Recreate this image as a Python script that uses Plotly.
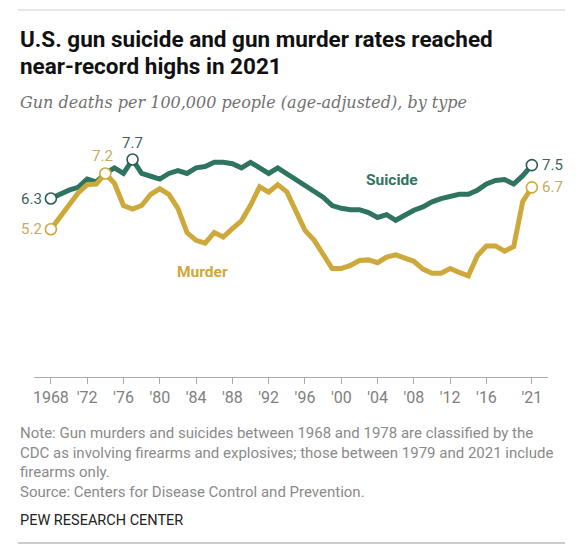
import plotly.graph_objects as go

years = list(range(1968, 2022))

suicide = [6.3, 6.45, 6.6, 6.7, 7.0, 6.9, 7.2, 7.4, 7.2, 7.7,
           7.2, 7.1, 7.0, 7.2, 7.3, 7.2, 7.4, 7.45, 7.6, 7.6,
           7.55, 7.4, 7.6, 7.4, 7.2, 7.4, 7.2, 7.0, 6.8, 6.55,
           6.35, 6.05, 5.95, 5.9, 5.9, 5.8, 5.62, 5.72, 5.52, 5.7,
           5.88, 6.0, 6.18, 6.3, 6.38, 6.45, 6.45, 6.6, 6.82, 6.95,
           6.98, 6.82, 7.12, 7.5]

murder = [5.2, 5.65, 6.05, 6.5, 6.8, 6.82, 7.2, 6.85, 6.05, 5.92,
          6.05, 6.45, 6.65, 6.45, 5.95, 5.08, 4.8, 4.7, 5.08, 4.92,
          5.22, 5.5, 6.06, 6.72, 6.53, 6.8, 6.54, 5.88, 5.16, 4.81,
          4.33, 3.79, 3.79, 3.9, 4.08, 4.1, 4.0, 4.2, 4.28, 4.17,
          4.05, 3.77, 3.62, 3.62, 3.79, 3.65, 3.53, 4.25, 4.6, 4.6,
          4.41, 4.58, 6.2, 6.7]

tick_vals = [1968, 1972, 1976, 1980, 1984, 1988, 1992, 1996, 2000, 2004,
             2008, 2012, 2016, 2021]
tick_text = ["1968", "'72", "'76", "'80", "'84", "'88", "'92", "'96", "'00",
             "'04", "'08", "'12", "'16", "'21"]

suicide_marks = [1968, 1977, 2021]
murder_marks = [1968, 1974, 2021]

GREEN = "#2f7461"
GOLD = "#cda83a"
GREEN_TXT = "#3e5f60"
GOLD_TXT = "#c6aa5e"

W, H = 583, 550
OFF = 8  # page body margin offset
L, R, T, B = 34 - OFF, 35 + OFF, 140 - OFF, 173 + OFF
PW = W - L - R
PH = H - T - B


def px(xp):
    return (xp - OFF - L) / PW


def py(yp):
    return (H - B - (yp - OFF)) / PH


fig = go.Figure()

fig.add_trace(go.Scatter(x=years, y=suicide, mode="lines",
                         line=dict(color=GREEN, width=5), hoverinfo="skip"))
fig.add_trace(go.Scatter(x=years, y=murder, mode="lines",
                         line=dict(color=GOLD, width=5), hoverinfo="skip"))

s_idx = [years.index(y) for y in suicide_marks]
m_idx = [years.index(y) for y in murder_marks]
fig.add_trace(go.Scatter(x=suicide_marks, y=[suicide[i] for i in s_idx],
                         mode="markers",
                         marker=dict(size=11, color="white", symbol="circle",
                                     line=dict(color="#2c5a55", width=1.6)),
                         hoverinfo="skip"))
fig.add_trace(go.Scatter(x=murder_marks, y=[murder[i] for i in m_idx],
                         mode="markers",
                         marker=dict(size=11, color="white", symbol="circle",
                                     line=dict(color=GOLD, width=1.6)),
                         hoverinfo="skip"))

ann = []
vfont = dict(family="Roboto", size=15)
ann.append(dict(x=1968, y=suicide[0], text="6.3", xref="x", yref="y",
                xanchor="right", yanchor="middle", xshift=-7, showarrow=False,
                font=dict(vfont, color=GREEN_TXT)))
ann.append(dict(x=1968, y=murder[0], text="5.2", xref="x", yref="y",
                xanchor="right", yanchor="middle", xshift=-7, showarrow=False,
                font=dict(vfont, color=GOLD_TXT)))
ann.append(dict(x=1977, y=suicide[s_idx[1]], text="7.7", xref="x", yref="y",
                xanchor="center", yanchor="bottom", yshift=6, showarrow=False,
                font=dict(vfont, color=GREEN_TXT)))
ann.append(dict(x=1974, y=murder[m_idx[1]], text="7.2", xref="x", yref="y",
                xanchor="center", yanchor="bottom", yshift=6, xshift=-3,
                showarrow=False, font=dict(vfont, color=GOLD_TXT)))
ann.append(dict(x=2021, y=suicide[-1], text="7.5", xref="x", yref="y",
                xanchor="left", yanchor="middle", xshift=8, showarrow=False,
                font=dict(vfont, color=GREEN_TXT)))
ann.append(dict(x=2021, y=murder[-1], text="6.7", xref="x", yref="y",
                xanchor="left", yanchor="middle", xshift=8, showarrow=False,
                font=dict(vfont, color=GOLD_TXT)))
ann.append(dict(x=2005.6, y=6.96, text="<b>Suicide</b>", xref="x", yref="y",
                showarrow=False, font=dict(family="Roboto", size=15.5, color=GREEN)))
ann.append(dict(x=1984.66, y=3.66, text="<b>Murder</b>", xref="x", yref="y",
                showarrow=False, font=dict(family="Roboto", size=15.5, color=GOLD)))

tfont = dict(family="Roboto", size=22.5, color="#111111")
ann.append(dict(x=px(18), y=py(39), xref="paper", yref="paper",
                text="<b>U.S. gun suicide and gun murder rates reached</b>",
                xanchor="left", yanchor="middle", showarrow=False, font=tfont))
ann.append(dict(x=px(18), y=py(66), xref="paper", yref="paper",
                text="<b>near-record highs in 2021</b>",
                xanchor="left", yanchor="middle", showarrow=False, font=tfont))
ann.append(dict(x=px(18), y=py(102), xref="paper", yref="paper",
                text="<i>Gun deaths per 100,000 people (age-adjusted), by type</i>",
                xanchor="left", yanchor="middle", showarrow=False,
                font=dict(family="DejaVu Serif", size=16, color="#707070")))

nfont = dict(family="Roboto", size=15, color="#8a8a8a")
note_lines = [
    "Note: Gun murders and suicides between 1968 and 1978 are classified by the",
    "CDC as involving firearms and explosives; those between 1979 and 2021 include",
    "firearms only.",
    "Source: Centers for Disease Control and Prevention.",
]
for i, t in enumerate(note_lines):
    ann.append(dict(x=px(18), y=py(433 + i * 19.5), xref="paper", yref="paper",
                    text=t, xanchor="left", yanchor="middle", showarrow=False,
                    font=nfont))
ann.append(dict(x=px(18), y=py(520), xref="paper", yref="paper",
                text="PEW RESEARCH CENTER", xanchor="left", yanchor="middle",
                showarrow=False, font=dict(family="Roboto", size=14.5, color="#222222")))

shapes = [
    dict(type="line", xref="paper", yref="paper", x0=px(18), x1=px(565),
         y0=py(10), y1=py(10), line=dict(color="#cccccc", width=1)),
    dict(type="line", xref="paper", yref="paper", x0=px(18), x1=px(565),
         y0=py(543), y1=py(543), line=dict(color="#999999", width=1)),
    dict(type="line", xref="paper", yref="paper", x0=px(577), x1=px(577),
         y0=py(0), y1=py(550), line=dict(color="#dddddd", width=1)),
]

fig.update_layout(
    width=W, height=H,
    margin=dict(l=L, r=R, t=T, b=B),
    paper_bgcolor="white", plot_bgcolor="white",
    showlegend=False,
    annotations=ann, shapes=shapes,
    xaxis=dict(range=[1966.14, 2022.78], tickvals=tick_vals, ticktext=tick_text,
               showgrid=False, zeroline=False, showline=True,
               linecolor="#aaaaaa", linewidth=1, ticks="outside", ticklen=6,
               tickcolor="#aaaaaa",
               tickfont=dict(family="Roboto", size=16, color="#808080")),
    yaxis=dict(range=[-0.1, 8.40], visible=False, showgrid=False, zeroline=False),
)

fig.write_html("out.html")
